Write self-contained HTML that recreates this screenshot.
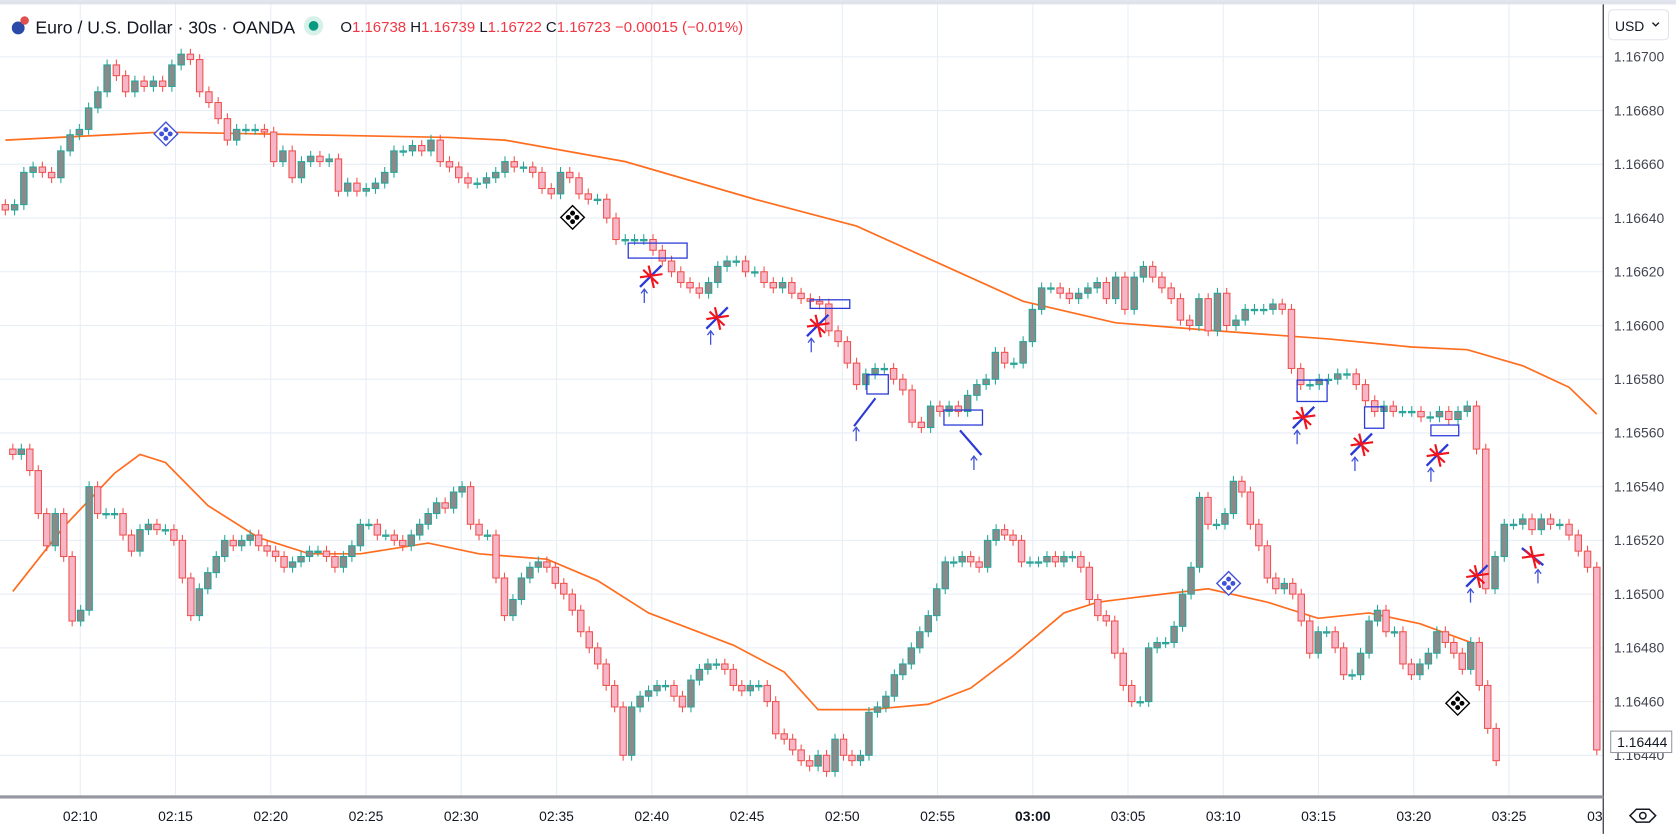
<!DOCTYPE html>
<html><head><meta charset="utf-8"><style>
html,body{margin:0;padding:0;background:#fff;width:1676px;height:834px;overflow:hidden}
svg{display:block;font-family:"Liberation Sans",sans-serif}
</style></head><body>
<svg id="chart" width="1676" height="834" viewBox="0 0 1566 779" xmlns="http://www.w3.org/2000/svg">
<rect x="0" y="0" width="1566" height="779" fill="#fff"/>
<rect x="0" y="0" width="1566" height="4" fill="#e0e3eb"/>
<g id="grid"></g>
<g id="plot"></g>
<g id="anno"></g>
<line x1="1498" y1="4" x2="1498" y2="779" stroke="#131722" stroke-width="1"/>
<rect x="0" y="743" width="1498" height="3" fill="#9598a1"/>
<g id="yaxis"></g>
<g id="xaxis"></g>
<g>
 <circle cx="17" cy="26" r="6" fill="#2a4ba8"/>
 <circle cx="23" cy="19" r="4" fill="#e05050"/>
 <text x="33" y="31" font-size="16.5" fill="#131722">Euro / U.S. Dollar · 30s · OANDA</text>
 <circle cx="293" cy="24" r="9" fill="#d6f0ea"/>
 <circle cx="293" cy="24" r="4.5" fill="#089981"/>
 <text x="318" y="30" font-size="14" fill="#131722">O<tspan fill="#f23645">1.16738</tspan> H<tspan fill="#f23645">1.16739</tspan> L<tspan fill="#f23645">1.16722</tspan> C<tspan fill="#f23645">1.16723 −0.00015 (−0.01%)</tspan></text>
</g>
<g>
 <rect x="1503" y="9" width="56" height="28" rx="4" fill="#fff" stroke="#e0e3eb"/>
 <text x="1509" y="29" font-size="13" fill="#131722">USD</text>
 <path d="M1544 21 l3 3 l3 -3" stroke="#131722" fill="none" stroke-width="1.3"/>
</g>
<g>
 <rect x="1505" y="683" width="57" height="20" fill="#fff" stroke="#9598a1"/>
 <text x="1511" y="698" font-size="13" fill="#131722">1.16444</text>
</g>
<g>
 <path d="M1523 762 l6 -6 h12 l6 6 l-6 6 h-12 z" fill="none" stroke="#131722" stroke-width="1.4"/>
 <circle cx="1535" cy="762" r="3" fill="none" stroke="#131722" stroke-width="1.4"/>
</g>
</svg>
<script>
// ---- data ----
const priceTicks = [1.16700,1.16680,1.16660,1.16640,1.16620,1.16600,1.16580,1.16560,1.16540,1.16520,1.16500,1.16480,1.16460,1.16440];
const timeLabels = ["02:10","02:15","02:20","02:25","02:30","02:35","02:40","02:45","02:50","02:55","03:00","03:05","03:10","03:15","03:20","03:25","03"];
const mainClose = [1.16643,1.16645,1.16657,1.16659,1.16657,1.16655,1.16665,1.16671,1.16673,1.16681,1.16687,1.16697,1.16693,1.16687,1.16691,1.16689,1.16691,1.16689,1.16697,1.16701,1.16699,1.16687,1.16683,1.16677,1.16669,1.16673,1.16673,1.16673,1.16672,1.16661,1.16665,1.16655,1.16661,1.16663,1.16661,1.16662,1.16650,1.16653,1.16650,1.16651,1.16653,1.16657,1.16665,1.16665,1.16667,1.16665,1.16669,1.16661,1.16659,1.16655,1.16653,1.16653,1.16655,1.16657,1.16661,1.16659,1.16659,1.16657,1.16651,1.16649,1.16657,1.16655,1.16649,1.16647,1.16647,1.16640,1.16632,1.16632,1.16632,1.16632,1.16628,1.16624,1.16620,1.16616,1.16614,1.16612,1.16616,1.16622,1.16624,1.16624,1.16620,1.16620,1.16616,1.16614,1.16616,1.16612,1.16610,1.16609,1.16608,1.16598,1.16594,1.16586,1.16578,1.16582,1.16584,1.16584,1.16580,1.16576,1.16564,1.16562,1.16570,1.16568,1.16570,1.16568,1.16574,1.16578,1.16580,1.16590,1.16586,1.16586,1.16594,1.16606,1.16614,1.16614,1.16612,1.16610,1.16612,1.16614,1.16616,1.16610,1.16618,1.16606,1.16618,1.16622,1.16618,1.16614,1.16610,1.16602,1.16600,1.16610,1.16598,1.16612,1.16600,1.16602,1.16606,1.16606,1.16606,1.16608,1.16606,1.16584,1.16578,1.16578,1.16580,1.16580,1.16582,1.16582,1.16578,1.16572,1.16568,1.16570,1.16568,1.16568,1.16568,1.16566,1.16566,1.16568,1.16565,1.16568,1.16570,1.16554,1.16502,1.16514,1.16526,1.16526,1.16528,1.16524,1.16528,1.16526,1.16526,1.16522,1.16516,1.16510,1.16442];
const overlayClose = [1.16552,1.16554,1.16546,1.16530,1.16518,1.16530,1.16514,1.16490,1.16494,1.16540,1.16530,1.16530,1.16530,1.16522,1.16516,1.16524,1.16526,1.16524,1.16524,1.16520,1.16506,1.16492,1.16502,1.16508,1.16514,1.16520,1.16518,1.16520,1.16522,1.16518,1.16516,1.16514,1.16510,1.16512,1.16514,1.16516,1.16516,1.16514,1.16510,1.16514,1.16518,1.16526,1.16526,1.16522,1.16522,1.16520,1.16518,1.16522,1.16526,1.16530,1.16534,1.16532,1.16538,1.16540,1.16526,1.16522,1.16522,1.16506,1.16492,1.16498,1.16506,1.16510,1.16512,1.16510,1.16504,1.16500,1.16494,1.16486,1.16480,1.16474,1.16466,1.16458,1.16440,1.16458,1.16462,1.16464,1.16466,1.16466,1.16462,1.16458,1.16468,1.16472,1.16474,1.16474,1.16472,1.16466,1.16464,1.16466,1.16466,1.16460,1.16448,1.16446,1.16442,1.16438,1.16436,1.16440,1.16434,1.16446,1.16440,1.16438,1.16440,1.16456,1.16458,1.16462,1.16470,1.16474,1.16480,1.16486,1.16492,1.16502,1.16512,1.16512,1.16514,1.16512,1.16510,1.16520,1.16524,1.16522,1.16520,1.16512,1.16512,1.16512,1.16514,1.16512,1.16514,1.16514,1.16510,1.16498,1.16492,1.16490,1.16478,1.16466,1.16460,1.16460,1.16480,1.16482,1.16482,1.16488,1.16500,1.16510,1.16536,1.16526,1.16526,1.16530,1.16542,1.16538,1.16526,1.16518,1.16506,1.16502,1.16504,1.16500,1.16490,1.16478,1.16486,1.16486,1.16480,1.16470,1.16470,1.16478,1.16490,1.16494,1.16486,1.16486,1.16474,1.16470,1.16474,1.16478,1.16486,1.16482,1.16478,1.16472,1.16482,1.16466,1.16450,1.16438];
const maMainIdx = [0,17,48,54,67,81,92,101,110,120,131,143,152,158,164,169,172];
const maMainVal = [1.16669,1.16672,1.16670,1.16669,1.16661,1.16647,1.16637,1.16623,1.16609,1.16601,1.16598,1.16595,1.16592,1.16591,1.16585,1.16577,1.16567];
const maOverIdx = [0,6,12,15,18,23,29,35,41,45,49,55,63,69,75,85,91,95,101,108,113,118,124,128,133,141,148,154,160,166,172];
const maOverVal = [1.16501,1.16525,1.16545,1.16552,1.16549,1.16533,1.16521,1.16515,1.16515,1.16517,1.16519,1.16515,1.16513,1.16505,1.16493,1.16481,1.16471,1.16457,1.16457,1.16459,1.16465,1.16477,1.16493,1.16497,1.16499,1.16502,1.16497,1.16491,1.16493,1.16489,1.16482];
// ---- scales ----
const NS='http://www.w3.org/2000/svg';
function yOf(p){return 53+(1.167-p)/0.0002*50.2;}
function xMain(i){return 5+i*(1492-5)/(mainClose.length-1);}
function xOver(i){return 12+i*(1398-12)/(overlayClose.length-1);}
function xTime(i){return 75+i*89;}
function mk(tag,attrs,parent){const e=document.createElementNS(NS,tag);for(const k in attrs)e.setAttribute(k,attrs[k]);parent.appendChild(e);return e;}
const grid=document.getElementById('grid'),plot=document.getElementById('plot'),yax=document.getElementById('yaxis'),xax=document.getElementById('xaxis'),anno=document.getElementById('anno');
priceTicks.forEach(p=>{
  const l=mk('line',{x1:0,x2:1498,y1:yOf(p),y2:yOf(p),stroke:'#e6eef6','stroke-width':1},grid);
  
  
  const t=mk('text',{x:1508,y:yOf(p)+4.5,'font-size':13,fill:'#434651'},yax);
  t.textContent=p.toFixed(5);
  
  
});
timeLabels.forEach((s,i)=>{
  const x=xTime(i);
  if(x<1498){const l=mk('line',{x1:x,x2:x,y1:4,y2:743,stroke:'#e6eef6','stroke-width':1},grid);
  
  }
  const t=mk('text',{x:i==16?1483:x,y:767,'font-size':13,fill:'#131722','text-anchor':i==16?'start':'middle','font-weight':s=='03:00'?'bold':'normal'},xax);
  t.textContent=s;
  
  
});
function drawCandles(closes,xf,name){
  const g=mk('g',{},plot);
  
  
  closes.forEach((c,i)=>{
    const o=i>0?closes[i-1]:c+0.00002;
    const up=c>=o,x=xf(i);
    const hi=Math.max(o,c)+0.00002,lo=Math.min(o,c)-0.00002;
    const col=up?'#26a69a':'#ef5350';
    const w=mk('line',{x1:x,x2:x,y1:yOf(hi),y2:yOf(lo),stroke:col,'stroke-width':1},g);
    
    
    const y1=yOf(Math.max(o,c)),y2=yOf(Math.min(o,c));
    const b=mk('rect',{x:x-3,y:y1,width:6,height:Math.max(1.2,y2-y1),fill:up?'#8a8a8a':'#f6b6c8',stroke:col,'stroke-width':1},g);
    
    
  });
}
function drawMA(idx,vals,xf,name){
  const pts=idx.map((k,j)=>xf(k)+','+yOf(vals[j])).join(' ');
  const p=mk('polyline',{points:pts,fill:'none',stroke:'#ff6d1f','stroke-width':1.6},plot);
  
  
}
drawMA(maMainIdx,maMainVal,xMain,'moving-average-main');
drawMA(maOverIdx,maOverVal,xOver,'moving-average-overlay');
drawCandles(overlayClose,xOver,'overlay-candles');
drawCandles(mainClose,xMain,'main-candles');
// ---- annotations ----
function diamond(cx,cy,col,name){
  const g=mk('g',{},anno);
  
  
  mk('path',{d:`M${cx} ${cy-11} L${cx+11} ${cy} L${cx} ${cy+11} L${cx-11} ${cy} Z`,fill:'#fff',stroke:col,'stroke-width':1.3},g);
  [[0,-4],[4,0],[0,4],[-4,0]].forEach(d=>mk('circle',{cx:cx+d[0],cy:cy+d[1],r:2.3,fill:col},g));
}
diamond(155,125,'#3f51d8','signal-diamond');
diamond(535,203,'#000','signal-diamond');
diamond(1148,545,'#3f51d8','signal-diamond');
diamond(1362,657,'#000','signal-diamond');
[[587,227,55,14],[757,280,37,8],[810,350,20,18],[882,383,36,14],[1212,355,28,20],[1275,380,18,20],[1337,397,26,10]].forEach(r=>{
  const e=mk('rect',{x:r[0],y:r[1],width:r[2],height:r[3],fill:'none',stroke:'#2b3ad6','stroke-width':1.2},anno);
  
  
});
function arrow(x,y){
  const e=mk('path',{d:`M${x} ${y+7} V${y-5} M${x-3} ${y-2} L${x} ${y-6} L${x+3} ${y-2}`,stroke:'#3f51d8',fill:'none','stroke-width':1.2},anno);
  
  
}
function star(cx,cy,down){
  const s=mk('path',{d:down?`M${cx-10} ${cy-8} L${cx+10} ${cy+8}`:`M${cx-10} ${cy+10} L${cx+10} ${cy-10}`,stroke:'#2b3ad6','stroke-width':2.2},anno);
  
  
  const r=mk('path',{d:`M${cx-10} ${cy+1} L${cx+11} ${cy-2} M${cx-2} ${cy-10} L${cx+3} ${cy+11} M${cx-7} ${cy-6} L${cx+7} ${cy+7}`,stroke:'#f0141e','stroke-width':2},anno);
  
  
  arrow(down?cx+5:cx-6,cy+18);
}
[[608,258,0],[670,297,0],[764,304,0],[1218,390,0],[1272,415,0],[1343,425,0],[1380,538,0],[1432,520,1]].forEach(s=>star(s[0],s[1],s[2]));
const s1=mk('path',{d:'M798 398 L818 372',stroke:'#2b3ad6','stroke-width':2},anno);


arrow(800,405);
const s2=mk('path',{d:'M897 402 L917 425',stroke:'#2b3ad6','stroke-width':2},anno);


arrow(910,432);
</script>
</body></html>
